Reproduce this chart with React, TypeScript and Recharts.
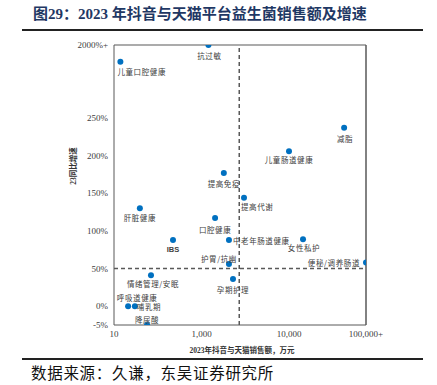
import { ScatterChart, Scatter, XAxis, YAxis, ReferenceLine } from 'recharts'

// 细分赛道（抖音+天猫）
const NAMES = [
  '儿童口腔健康', '抗过敏', '减脂', '儿童肠道健康', '提高代谢', '提高免疫',
  '女性私护', '肝脏健康', '口腔健康', 'IBS', '中老年肠道健康', '护胃/抗幽',
  '情绪管理/安眠', '孕期护理', '呼吸道健康', '哺乳期', '降尿酸', '便秘/调养肠道',
]
// 2023 销售额, 万元
const SALES = [14, 1200, 52000, 10000, 3060, 1800, 15200, 39, 1430, 223, 2060, 2060, 70, 2290, 21, 30, 57, 100000]
// 23 同比增速, %
const GROWTH = [1600, 2000, 237, 206, 144, 177, 89, 130, 117, 88, 88, 56, 41, 36, 0, 0, -5, 58]

const SALES_TICKS = [10, 1000, 10000, 100000]
const SALES_LABELS = ['10', '1,000', '10,000', '100,000+']
const GROWTH_TICKS = [-5, 0, 50, 100, 150, 200, 250, 2000]
const GROWTH_LABELS = ['-5%', '0%', '50%', '100%', '150%', '200%', '250%', '2000%+']

const SALES_SPLIT = 2700
const GROWTH_SPLIT = 50

// broken axes as drawn in the source
const toX = (v: number) =>
  v <= 1000 ? Math.log10(v / 10) / 2 : v <= 10000 ? 1 + Math.log10(v / 1000) : 2 + Math.log10(v / 10000) * 0.88
const toY = (p: number) => (p >= 250 ? 250 + ((p - 250) * 97) / 1750 : p < 0 ? p * 5 : p)

const DATA = NAMES.map((name, i) => ({ name, x: toX(SALES[i]), y: toY(GROWTH[i]) }))

// label placement: [anchor, dx, dy]
const LABEL_POS: Record<string, [string, number, number]> = {
  儿童口腔健康: ['start', -3, 10],
  抗过敏: ['middle', 1, 10],
  减脂: ['middle', 1, 11],
  儿童肠道健康: ['middle', 0, 8],
  提高代谢: ['start', -3, 9],
  提高免疫: ['middle', 0, 11],
  女性私护: ['middle', 1, 8],
  肝脏健康: ['middle', 0, 9],
  口腔健康: ['middle', 0, 11],
  IBS: ['middle', 0, 10],
  中老年肠道健康: ['start', 4, 1],
  '护胃/抗幽': ['end', 8, -6],
  '情绪管理/安眠': ['middle', 2, 8],
  孕期护理: ['middle', 0, 10],
  呼吸道健康: ['middle', 9, -9],
  哺乳期: ['start', 2, 0.5],
  降尿酸: ['middle', 0, -6],
  '便秘/调养肠道': ['end', -6, 0],
}

const AXIS = '#595959'
const SERIF = '"Liberation Serif", "Noto Sans CJK SC", serif'
const CJK = '"Noto Sans CJK SC", sans-serif'

const Dot = (props: any) => {
  const { cx, cy, payload } = props
  const [anchor, dx, dy] = LABEL_POS[payload.name] ?? ['middle', 0, 10]
  const ibs = payload.name === 'IBS'
  return (
    <g>
      <circle cx={cx} cy={cy} r={3} fill="#0070C0" />
      <text
        x={cx + dx}
        y={cy + dy}
        textAnchor={anchor as any}
        dominantBaseline="central"
        fontSize={7.5}
        fontFamily={ibs ? '"Liberation Sans", sans-serif' : CJK}
        fontWeight={ibs ? 700 : 400}
        letterSpacing={ibs ? 0 : 0.6}
        fill="#404040"
      >
        {payload.name}
      </text>
    </g>
  )
}

export default function App() {
  const xTicks = SALES_TICKS.map(toX)
  const yTicks = GROWTH_TICKS.map(toY)
  return (
    <div style={{ position: 'absolute', left: 0, top: 0, width: 437, height: 385, background: '#fff' }}>
      <div
        style={{
          position: 'absolute', left: 33, top: 4, fontFamily: SERIF, fontWeight: 700,
          fontSize: 15, color: '#1F3864', whiteSpace: 'nowrap', lineHeight: '20px',
        }}
      >
        图29：2023 年抖音与天猫平台益生菌销售额及增速
      </div>
      <div style={{ position: 'absolute', left: 22, top: 29, width: 401, height: 2, background: '#222' }} />

      <ScatterChart width={437} height={385} margin={{ top: 45, right: 71, bottom: 40, left: 70 }}>
        <XAxis
          type="number"
          dataKey="x"
          domain={[xTicks[0], xTicks[3]]}
          ticks={xTicks}
          tickFormatter={(v: number) => SALES_LABELS[xTicks.indexOf(v)] ?? ''}
          height={20}
          tickLine={false}
          tickSize={4}
          axisLine={{ stroke: AXIS }}
          tick={{ fontSize: 9, fontFamily: SERIF, fill: '#404040' }}
          allowDataOverflow
        />
        <YAxis
          type="number"
          dataKey="y"
          domain={[yTicks[0], yTicks[yTicks.length - 1]]}
          ticks={yTicks}
          tickFormatter={(v: number) => GROWTH_LABELS[yTicks.indexOf(v)] ?? ''}
          width={44}
          tickLine={false}
          tickSize={4}
          axisLine={{ stroke: AXIS }}
          tick={{ fontSize: 9, fontFamily: SERIF, fill: '#404040' }}
          allowDataOverflow
        />
        <ReferenceLine y={yTicks[yTicks.length - 1]} stroke={AXIS} strokeWidth={1.2} />
        <ReferenceLine x={xTicks[3]} stroke={AXIS} strokeWidth={1.5} />
        <ReferenceLine x={toX(SALES_SPLIT)} stroke={AXIS} strokeWidth={1.5} strokeDasharray="4 3" />
        <ReferenceLine y={toY(GROWTH_SPLIT)} stroke={AXIS} strokeWidth={1.5} strokeDasharray="4 3" />
        <Scatter data={DATA} shape={Dot} isAnimationActive={false} />
      </ScatterChart>

      <div
        style={{
          position: 'absolute', left: 72, top: 166, transform: 'translate(-50%, -50%) rotate(-90deg)',
          fontFamily: SERIF, fontWeight: 700, fontSize: 7.5, color: '#333', whiteSpace: 'nowrap',
        }}
      >
        23同比增速
      </div>
      <div
        style={{
          position: 'absolute', left: 242, top: 349, transform: 'translate(-50%, -50%)',
          fontFamily: SERIF, fontWeight: 700, fontSize: 7.5, color: '#333', whiteSpace: 'nowrap',
        }}
      >
        2023年抖音与天猫销售额，万元
      </div>

      <div style={{ position: 'absolute', left: 22, top: 358, width: 401, height: 2, background: '#222' }} />
      <div
        style={{
          position: 'absolute', left: 31, top: 362, fontFamily: CJK, fontSize: 15.5,
          letterSpacing: 0.7, color: '#111', whiteSpace: 'nowrap', lineHeight: '20px',
        }}
      >
        数据来源：久谦，东吴证券研究所
      </div>
    </div>
  )
}
